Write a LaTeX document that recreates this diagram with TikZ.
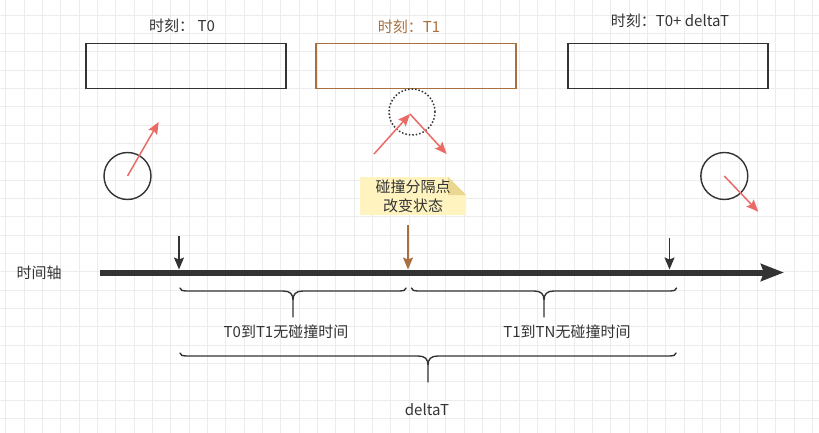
\documentclass[tikz,border=0pt]{standalone}
\usepackage{fontspec}
\setmainfont{Noto Sans CJK SC}
\usepackage{tikz}
\usetikzlibrary{arrows.meta,calc}

\definecolor{ink}{RGB}{51,51,51}
\definecolor{hitbrown}{RGB}{168,112,62}
\definecolor{velred}{RGB}{234,107,102}
\definecolor{notefill}{RGB}{255,243,192}
\definecolor{notefold}{RGB}{234,215,145}
\definecolor{gridc}{RGB}{236,236,236}

\begin{document}
\begin{tikzpicture}[x=1pt, y=-1pt, font=\fontsize{15}{19}\selectfont, text=ink,
    gridline/.style={draw=gridc, line width=0.8pt},
    frame/.style={draw=ink, line width=1.6pt, minimum width=200pt, minimum height=45pt, inner sep=0pt},
    ball/.style={circle, draw=ink, line width=1.4pt, minimum size=47pt, inner sep=0pt},
    ghost/.style={circle, draw=ink, line width=1.5pt, dotted, minimum size=46pt, inner sep=0pt},
    vel/.style={draw=velred, line width=1.5pt, -{Stealth[length=12pt, width=10pt, inset=2pt]}},
    tick/.style={draw=ink, line width=1.3pt, -{Stealth[length=12pt, width=10pt, inset=2pt]}},
    axis/.style={draw=ink, line width=6pt, -{Stealth[length=23pt, width=17pt, inset=3pt]}},
    curly/.style={draw=ink, line width=1.4pt, line cap=round, to path={
      let \p1=(\tikztostart), \p2=(\tikztotarget), \p3=($(\p1)!.5!(\p2)$) in
      (\p1) .. controls ($(\p1)+(0,2.5)$) and ($(\p1)+(3,3)$) .. ($(\p1)+(6,3)$)
      -- ($(\p3)+(-10,3)$)
      .. controls ($(\p3)+(-3,3)$) and ($(\p3)+(0,6)$) .. ($(\p3)+(0,12)$)
      -- ($(\p3)+(0,29)$)
      ($(\p3)+(0,12)$) .. controls ($(\p3)+(0,6)$) and ($(\p3)+(3,3)$) .. ($(\p3)+(10,3)$)
      -- ($(\p2)+(-6,3)$)
      .. controls ($(\p2)+(-3,3)$) and ($(\p2)+(0,2.5)$) .. (\p2)}}]

  \useasboundingbox[fill=white] (0,0) rectangle (819,433);

  % grid
  \foreach \i in {0,...,44}
    \draw[gridline] ({5.7+18.33*\i},0) -- ({5.7+18.33*\i},433);
  \foreach \j in {0,...,23}
    \draw[gridline] (0,{15+18.33*\j}) -- (819,{15+18.33*\j});

  % moments
  \node[frame] (t0box) at (186,66) {};
  \node[frame, draw=hitbrown] (t1box) at (416,66) {};
  \node[frame] (tnbox) at (668,66) {};
  \node (t0lab) at (182,26) {时刻：~T0};
  \node[text=hitbrown] (t1lab) at (409,27) {时刻：T1};
  \node (tnlab) at (670,21) {时刻：T0+ deltaT};

  % balls
  \node[ball] (ball0) at (127.5,176) {};
  \coordinate (v0) at (158.7,122);
  \draw[vel] (ball0.center) -- (v0);

  \node[ghost] (ball1) at (412,112) {};
  \coordinate (v1in) at (374,154);
  \coordinate (v1hit) at (410,114);
  \coordinate (v1out) at (446.7,154);
  \draw[vel] (v1in) -- (v1hit);
  \draw[vel] (v1hit) -- (v1out);

  \node[ball] (ballN) at (724.3,176) {};
  \coordinate (vN) at (758.3,211.7);
  \draw[vel] (ballN.center) -- (vN);

  % note
  \coordinate (hitnw) at (360,177);
  \coordinate (hitse) at (466,215);
  \fill[notefill] (hitnw) -- ($(hitnw-|hitse)+(-18,0)$) -- ($(hitnw-|hitse)+(0,18)$)
    -- (hitse) -- (hitse-|hitnw) -- cycle;
  \fill[notefold] ($(hitnw-|hitse)+(-18,0)$) -- ($(hitnw-|hitse)+(-18,18)$)
    -- ($(hitnw-|hitse)+(0,18)$) -- cycle;
  \node[align=center, inner sep=0pt] (hit) at ($(hitnw)!.5!(hitse)$) {碰撞分隔点\\改变状态};

  % time axis
  \node (axlab) at (39,273) {时间轴};
  \coordinate (axs) at (100,272.5);
  \coordinate (axe) at (784,272.5);
  \draw[axis] (axs) -- (axe);

  \coordinate (m0top) at (179,236);
  \coordinate (m0) at (179,269.5);
  \coordinate (m1top) at (408,225);
  \coordinate (m1) at (408,269.5);
  \coordinate (mNtop) at (669.5,238);
  \coordinate (mN) at (669.5,269.5);
  \draw[tick] (m0top) -- (m0);
  \draw[tick, draw=hitbrown] (m1top) -- (m1);
  \draw[tick] (mNtop) -- (mN);

  % spans
  \coordinate (b1a) at (180,288);
  \coordinate (b1b) at (406,288);
  \coordinate (b2a) at (411.5,288);
  \coordinate (b2b) at (676.5,288);
  \coordinate (b3a) at (180,353);
  \coordinate (b3b) at (676,353);
  \draw[curly] (b1a) to (b1b);
  \draw[curly] (b2a) to (b2b);
  \draw[curly] (b3a) to (b3b);
  \node (span1) at (286,332) {T0到T1无碰撞时间};
  \node (span2) at (567,332) {T1到TN无碰撞时间};
  \node (span3) at (427,410) {deltaT};
\end{tikzpicture}
\end{document}
